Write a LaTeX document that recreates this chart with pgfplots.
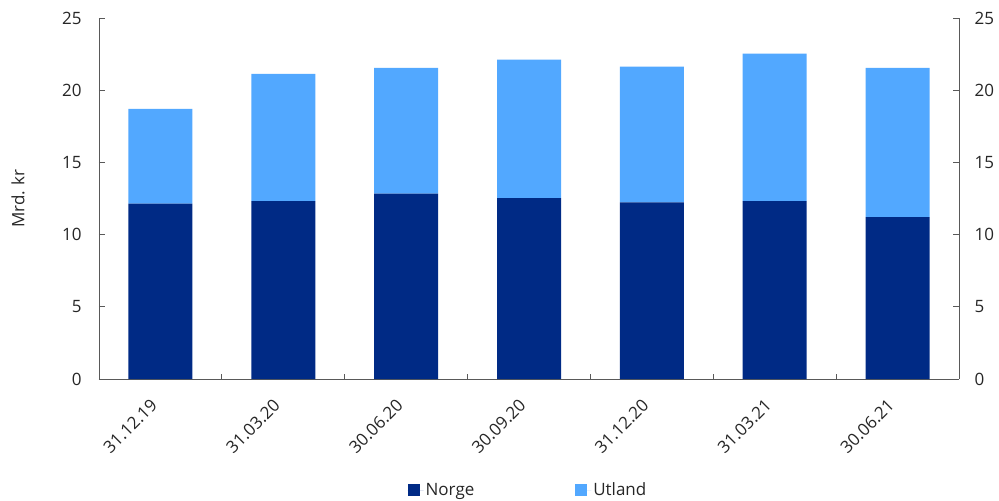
\documentclass[border=0pt]{standalone}
\usepackage{pgfplots}
\pgfplotsset{compat=1.18}
\usepackage{fontspec}
\setmainfont{Open Sans}

\definecolor{norge}{HTML}{002A85}
\definecolor{utland}{HTML}{52A8FF}
\definecolor{axisgray}{HTML}{595959}

\newcommand{\chartfont}{\fontsize{17bp}{20bp}\selectfont}

\begin{document}
\begin{tikzpicture}
\useasboundingbox (-99bp,-122bp) rectangle (900bp,379bp);
\pgfplotsset{
  common/.style={
    scale only axis,
    width=860bp, height=361bp,
    xmin=-0.5, xmax=6.5,
    ymin=0, ymax=25,
    ytick={0,5,...,25},
    tick align=inside,
    major tick length=6bp,
    axis line style={-, draw=axisgray, line width=0.8bp},
    every tick/.style={draw=axisgray, line width=0.8bp},
    tick label style={font=\chartfont, text=black!85},
    /pgf/number format/assume math mode=true,
  },
}
\begin{axis}[
  common,
  axis x line*=bottom,
  axis y line*=left,
  ybar stacked,
  bar width=64bp,
  xtick={0,...,6},
  xticklabels={31.12.19,31.03.20,30.06.20,30.09.20,31.12.20,31.03.21,30.06.21},
  major x tick style={draw=none},
  minor xtick={0.5,1.5,...,5.5},
  minor tick length=5bp,
  xticklabel style={xshift=-4bp, yshift=-21bp, rotate=45, anchor=east},
  yticklabel style={xshift=-14bp},
  ylabel={Mrd. kr},
  every axis y label/.style={at={(axis description cs:0,0.5)}, xshift=-81bp, rotate=90, anchor=center, font=\chartfont, text=black!85},
  legend columns=2,
  legend style={
    at={(0.5,0)}, anchor=center, xshift=-1bp, yshift=-111bp,
    draw=none, fill=none,
    font=\chartfont, text=black!85,
    /tikz/every even column/.append style={column sep=99bp},
  },
  legend image code/.code={%
    \fill[#1] (0bp,-6bp) rectangle (12bp,6bp);
    \path (0bp,0bp) -- (16bp,0bp);},
]
\addplot[fill=norge, draw=none] coordinates {
  (0,12.14) (1,12.32) (2,12.83) (3,12.53) (4,12.23) (5,12.32) (6,11.21)
};
\addlegendentry{Norge}
\addplot[fill=utland, draw=none] coordinates {
  (0,6.57) (1,8.81) (2,8.72) (3,9.59) (4,9.41) (5,10.22) (6,10.34)
};
\addlegendentry{Utland}
\end{axis}
\begin{axis}[
  common,
  axis x line=none,
  axis y line*=right,
  yticklabel style={xshift=12bp},
]
\end{axis}
\end{tikzpicture}
\end{document}
